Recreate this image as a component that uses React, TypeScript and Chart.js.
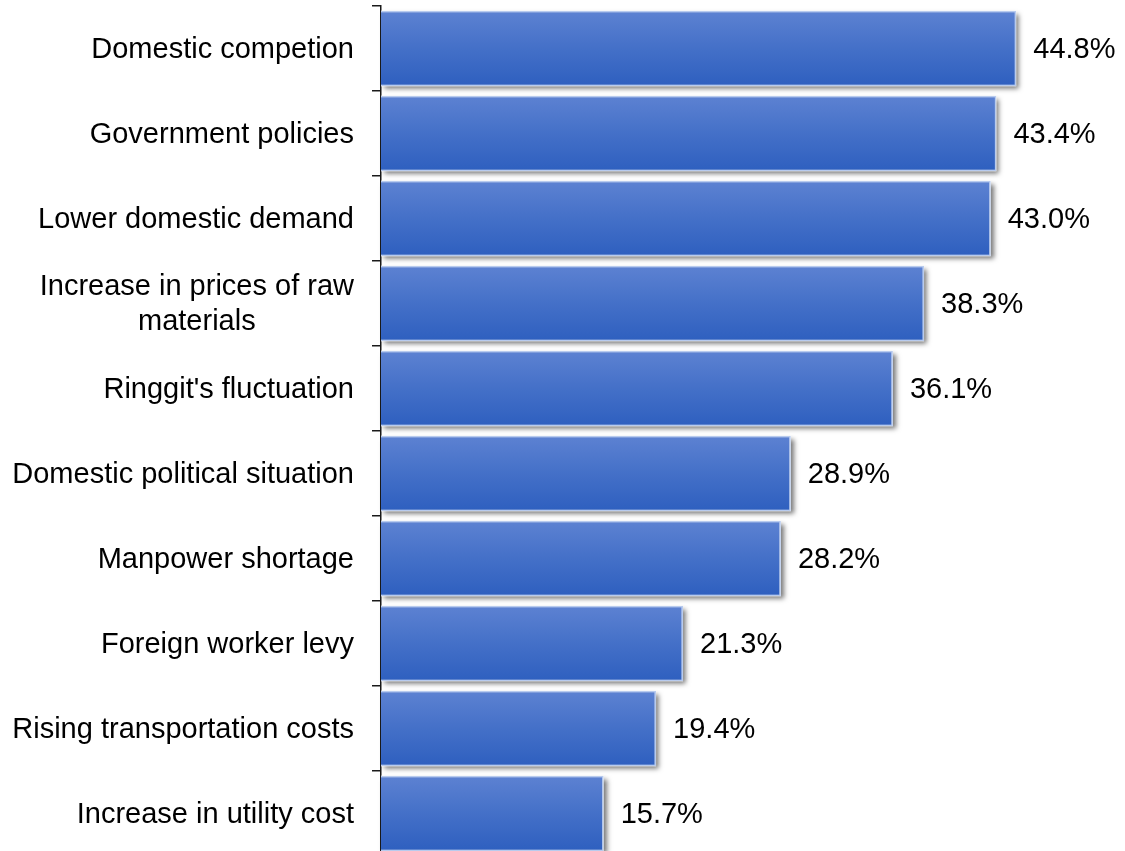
import React, { useEffect, useRef } from 'react';
import { Chart, registerables } from 'chart.js';

Chart.register(...registerables);

const categories: string[][] = [
  ['Domestic competion'],
  ['Government policies'],
  ['Lower domestic demand'],
  ['Increase in prices of raw', 'materials'],
  ["Ringgit's fluctuation"],
  ['Domestic political situation'],
  ['Manpower shortage'],
  ['Foreign worker levy'],
  ['Rising transportation costs'],
  ['Increase in utility cost'],
];
const values: number[] = [44.8, 43.4, 43.0, 38.3, 36.1, 28.9, 28.2, 21.3, 19.4, 15.7];
const valueLabels: string[] = ['44.8%', '43.4%', '43.0%', '38.3%', '36.1%', '28.9%', '28.2%', '21.3%', '19.4%', '15.7%'];

const FONT = '"Liberation Sans", Arial, sans-serif';
const FONT_SIZE = 29;

const shadowPlugin = {
  id: 'barShadow',
  beforeDatasetsDraw(chart: any) {
    const ctx = chart.ctx;
    const meta = chart.getDatasetMeta(0);
    ctx.save();
    ctx.shadowColor = 'rgba(0,0,0,0.55)';
    ctx.shadowBlur = 5;
    ctx.shadowOffsetX = 3;
    ctx.shadowOffsetY = 3;
    ctx.fillStyle = '#ffffff';
    meta.data.forEach((bar: any) => {
      const top = bar.y - bar.height / 2;
      ctx.fillRect(bar.base, top, bar.x - bar.base, bar.height);
    });
    ctx.restore();
  },
};

const labelsPlugin = {
  id: 'customLabels',
  afterDatasetsDraw(chart: any) {
    const ctx = chart.ctx;
    const meta = chart.getDatasetMeta(0);
    const yScale = chart.scales.y;
    ctx.save();
    ctx.font = `${FONT_SIZE}px ${FONT}`;
    ctx.fillStyle = '#000000';
    ctx.textBaseline = 'middle';
    meta.data.forEach((bar: any, i: number) => {
      ctx.textAlign = 'left';
      ctx.fillText(valueLabels[i], bar.x + 17, bar.y + 1);
    });
    const rightX = yScale.right - 27;
    const lh = 35;
    categories.forEach((lines, i) => {
      const cy = yScale.getPixelForValue(i) + 1;
      const n = lines.length;
      if (n === 1) {
        ctx.textAlign = 'right';
        ctx.fillText(lines[0], rightX, cy);
      } else {
        const w = Math.max(...lines.map((l) => ctx.measureText(l).width));
        ctx.textAlign = 'center';
        lines.forEach((l, k) => {
          ctx.fillText(l, rightX - w / 2, cy - ((n - 1) * lh) / 2 + k * lh);
        });
      }
    });
    ctx.restore();
  },
};

export default function App() {
  const ref = useRef<HTMLCanvasElement | null>(null);
  useEffect(() => {
    if (!ref.current) return;
    const chart = new Chart(ref.current, {
      type: 'bar',
      data: {
        labels: categories.map((c) => c.join(' ')),
        datasets: [
          {
            data: values,
            backgroundColor: (c: any) => {
              const ch = c.chart;
              const ys = ch.scales && ch.scales.y;
              if (!ys || c.dataIndex === undefined) return '#4470c8';
              const cy = ys.getPixelForValue(c.dataIndex);
              if (!Number.isFinite(cy)) return '#4470c8';
              const g = ch.ctx.createLinearGradient(0, cy - 38, 0, cy + 38);
              g.addColorStop(0, '#5d82d2');
              g.addColorStop(0.5, '#4470c8');
              g.addColorStop(1, '#2e5fbf');
              return g;
            },
            borderColor: '#b8cbee',
            borderWidth: 1.5,
            barPercentage: 0.89,
            categoryPercentage: 1,
          },
        ],
      },
      options: {
        indexAxis: 'y',
        responsive: false,
        animation: false,
        layout: { padding: { top: 6, right: 35, bottom: 4, left: 0 } },
        plugins: {
          legend: { display: false },
          tooltip: { enabled: false },
        },
        scales: {
          x: {
            display: false,
            min: 0,
            max: 50,
          },
          y: {
            position: 'left',
            afterFit: (s: any) => {
              s.width = 381;
            },
            border: { display: true, color: '#1a1a1a', width: 1.5 },
            grid: {
              offset: true,
              drawOnChartArea: false,
              drawTicks: true,
              tickLength: 9,
              color: '#1a1a1a',
              lineWidth: 1.5,
            },
            ticks: { display: false },
          },
        },
      },
      plugins: [shadowPlugin, labelsPlugin],
    });
    return () => chart.destroy();
  }, []);
  return (
    <div style={{ position: 'fixed', left: 0, top: 0, width: 1125, height: 851, overflow: 'hidden', background: '#fff' }}>
      <canvas ref={ref} width={1125} height={860} style={{ display: 'block' }} />
    </div>
  );
}
